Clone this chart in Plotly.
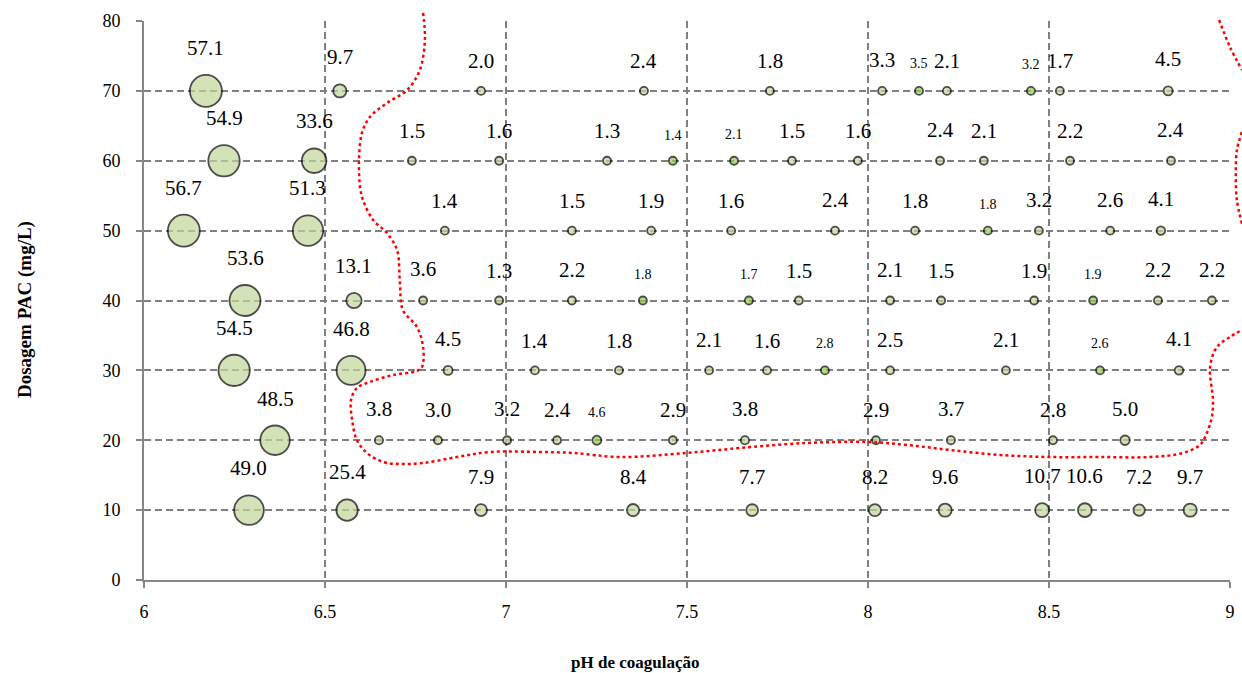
import plotly.graph_objects as go

# ------------------------------------------
# dados: pH de coagulação x dosagem PAC, valor = turbidez remanescente
# ------------------------------------------
ph_a = [6.171, 6.541, 6.931, 7.381, 7.729, 8.039, 8.218, 8.530, 8.829,
        6.221, 6.470, 6.740, 6.981, 7.279, 7.790, 7.972, 8.199, 8.320, 8.558, 8.837,
        6.110, 6.453, 6.831, 7.182, 7.401, 7.622, 7.909, 8.130, 8.472, 8.669, 8.809,
        6.279, 6.580, 6.771, 6.981, 7.182, 7.809, 8.061, 8.202, 8.459, 8.801, 8.950,
        6.249, 6.572, 6.840, 7.080, 7.312, 7.561, 7.721, 8.061, 8.381, 8.859,
        6.362, 6.649, 6.812, 7.003, 7.141, 7.461, 7.660, 8.022, 8.229, 8.511, 8.710,
        6.290, 6.561, 6.931, 7.351, 7.680, 8.019, 8.213, 8.481, 8.599, 8.749, 8.890]
dose_a = [70] * 9 + [60] * 11 + [50] * 11 + [40] * 11 + [30] * 10 + [20] * 11 + [10] * 11
val_a = [57.1, 9.7, 2.0, 2.4, 1.8, 3.3, 2.1, 1.7, 4.5,
         54.9, 33.6, 1.5, 1.6, 1.3, 1.5, 1.6, 2.4, 2.1, 2.2, 2.4,
         56.7, 51.3, 1.4, 1.5, 1.9, 1.6, 2.4, 1.8, 3.2, 2.6, 4.1,
         53.6, 13.1, 3.6, 1.3, 2.2, 1.5, 2.1, 1.5, 1.9, 2.2, 2.2,
         54.5, 46.8, 4.5, 1.4, 1.8, 2.1, 1.6, 2.5, 2.1, 4.1,
         48.5, 3.8, 3.0, 3.2, 2.4, 2.9, 3.8, 2.9, 3.7, 2.8, 5.0,
         49.0, 25.4, 7.9, 8.4, 7.7, 8.2, 9.6, 10.7, 10.6, 7.2, 9.7]

# segunda série (verde mais forte, rótulo menor)
ph_b = [8.141, 8.450, 7.461, 7.630, 8.331, 7.378, 7.671, 8.622, 7.881, 8.641, 7.251]
dose_b = [70, 70, 60, 60, 50, 40, 40, 40, 30, 30, 20]
val_b = [3.5, 3.2, 1.4, 2.1, 1.8, 1.8, 1.7, 1.9, 2.8, 2.6, 4.6]

# contorno (linha vermelha pontilhada)
curve_ph = [6.771, 6.776, 6.762, 6.727, 6.671, 6.624, 6.602, 6.594, 6.597, 6.605,
            6.633, 6.671, 6.699, 6.707, 6.715, 6.754, 6.771, 6.768, 6.754, 6.688,
            6.624, 6.588, 6.572, 6.575, 6.588, 6.616, 6.660, 6.707, 6.771, 6.865,
            6.956, 7.094, 7.185, 7.315, 7.500, 7.646, 7.831, 8.000, 8.108, 8.227,
            8.365, 8.503, 8.641, 8.779, 8.870, 8.917, 8.936, 8.950, 8.953, 8.945,
            8.964, 9.000, 9.033]
curve_dose = [81.15, 77.28, 72.99, 70.13, 68.26, 66.26, 63.97, 60.11, 56.24, 54.38,
              51.52, 49.66, 47.23, 42.50, 38.64, 36.21, 33.35, 30.48, 29.91, 29.34,
              28.34, 27.48, 25.76, 22.90, 20.04, 18.18, 16.89, 16.60, 16.74, 17.60,
              18.32, 18.32, 18.18, 17.60, 18.18, 18.89, 19.61, 19.75, 19.32, 18.60,
              17.89, 17.60, 17.60, 17.60, 18.18, 19.32, 21.04, 23.33, 25.76, 30.48,
              33.35, 34.78, 35.78]
curve2_ph = [8.970, 9.000, 9.033]
curve2_dose = [80.14, 76.28, 72.99]
curve3_ph = [9.033, 9.019, 9.016, 9.019, 9.033]
curve3_dose = [64.11, 61.5, 58.2, 54.38, 51.0]

x_ticks = [6, 6.5, 7, 7.5, 8, 8.5, 9]
x_ticktext = ["6", "6.5", "7", "7.5", "8", "8.5", "9"]
y_ticks = [0, 10, 20, 30, 40, 50, 60, 70, 80]

# ------------------------------------------
W, H = 1242, 673
ML, MR, MT, MB = 144, 0, 5, 93
plot_w = W - ML - MR
plot_h = H - MT - MB
xdom = (1230 - ML) / plot_w
ydom = (580 - 21) / plot_h

SIZEREF = 2 * 57.1 / 32 ** 2   # bolha de 57.1 ~ 32 px de diâmetro
FONT = "Liberation Serif"
GRID = "#808080"

def diam(v):
    return (2 * v / SIZEREF) ** 0.5

fig = go.Figure()

fig.add_trace(go.Scatter(
    x=ph_a, y=dose_a, mode="markers", xaxis="x", yaxis="y",
    marker=dict(size=val_a, sizemode="area", sizeref=SIZEREF, sizemin=4,
                color="#c3d69b", line=dict(color="black", width=1.8)),
    hoverinfo="x+y+text", text=[f"{v:.1f}" for v in val_a], showlegend=False))

fig.add_trace(go.Scatter(
    x=ph_b, y=dose_b, mode="markers", xaxis="x", yaxis="y",
    marker=dict(size=val_b, sizemode="area", sizeref=SIZEREF, sizemin=4,
                color="#92d050", line=dict(color="black", width=1.8)),
    hoverinfo="x+y+text", text=[f"{v:.1f}" for v in val_b], showlegend=False))

# curva em eixos auxiliares (pode sair da área do gráfico, como no original)
for cx, cy in [(curve_ph, curve_dose), (curve2_ph, curve2_dose), (curve3_ph, curve3_dose)]:
    fig.add_trace(go.Scatter(
        x=cx, y=cy, mode="lines", xaxis="x2", yaxis="y2",
        line=dict(color="#ff0000", width=2.5, dash="dot", shape="spline", smoothing=1.0),
        hoverinfo="skip", showlegend=False))

annotations = []
for x, y, v in zip(ph_a, dose_a, val_a):
    annotations.append(dict(x=x, y=y, xref="x", yref="y", text=f"{v:.1f}", showarrow=False,
                            xanchor="center", yanchor="middle",
                            yshift=diam(v) / 2 + 27,
                            font=dict(family=FONT, size=21, color="black")))
for x, y, v in zip(ph_b, dose_b, val_b):
    annotations.append(dict(x=x, y=y, xref="x", yref="y", text=f"{v:.1f}", showarrow=False,
                            xanchor="center", yanchor="middle",
                            yshift=diam(v) / 2 + 23,
                            font=dict(family=FONT, size=14, color="black")))

# títulos dos eixos
annotations.append(dict(x=(635 - ML) / plot_w, y=-(663 - (H - MB)) / plot_h, xref="paper", yref="paper",
                        xanchor="center", yanchor="middle",
                        text="<b>pH de coagulação</b>", showarrow=False,
                        font=dict(family=FONT, size=17, color="black")))
annotations.append(dict(x=-(ML - 25) / plot_w, y=(H - MB - 310) / plot_h, xref="paper", yref="paper",
                        xanchor="center", yanchor="middle",
                        text="<b>Dosagem PAC (mg/L)</b>", showarrow=False, textangle=-90,
                        font=dict(family=FONT, size=19, color="black")))

axis_common = dict(showgrid=True, gridcolor=GRID, gridwidth=1.6, griddash="7px,4px",
                   showline=True, linecolor="#868686", linewidth=2,
                   ticks="outside", ticklen=6, tickcolor="#868686", tickwidth=2,
                   zeroline=False, automargin=False,
                   tickfont=dict(family=FONT, size=18, color="black"))

fig.update_layout(
    width=W, height=H,
    margin=dict(l=ML, r=MR, t=MT, b=MB),
    paper_bgcolor="white", plot_bgcolor="rgba(0,0,0,0)",
    xaxis=dict(range=[6, 9], domain=[0, xdom], tickvals=x_ticks, ticktext=x_ticktext,
               anchor="y", ticklabelstandoff=8, **axis_common),
    yaxis=dict(range=[0, 80], domain=[0, ydom], tickvals=y_ticks,
               anchor="x", ticklabelstandoff=12, **axis_common),
    xaxis2=dict(range=[6, 6 + 3 / xdom], domain=[0, 1], anchor="y2", visible=False),
    yaxis2=dict(range=[0, 80 / ydom], domain=[0, 1], anchor="x2", visible=False),
    annotations=annotations,
)

# sem margem do <body>, para a figura ocupar a janela inteira
fig.write_html("out.html", config={"displayModeBar": False},
               post_script="document.body.style.margin='0px';")
